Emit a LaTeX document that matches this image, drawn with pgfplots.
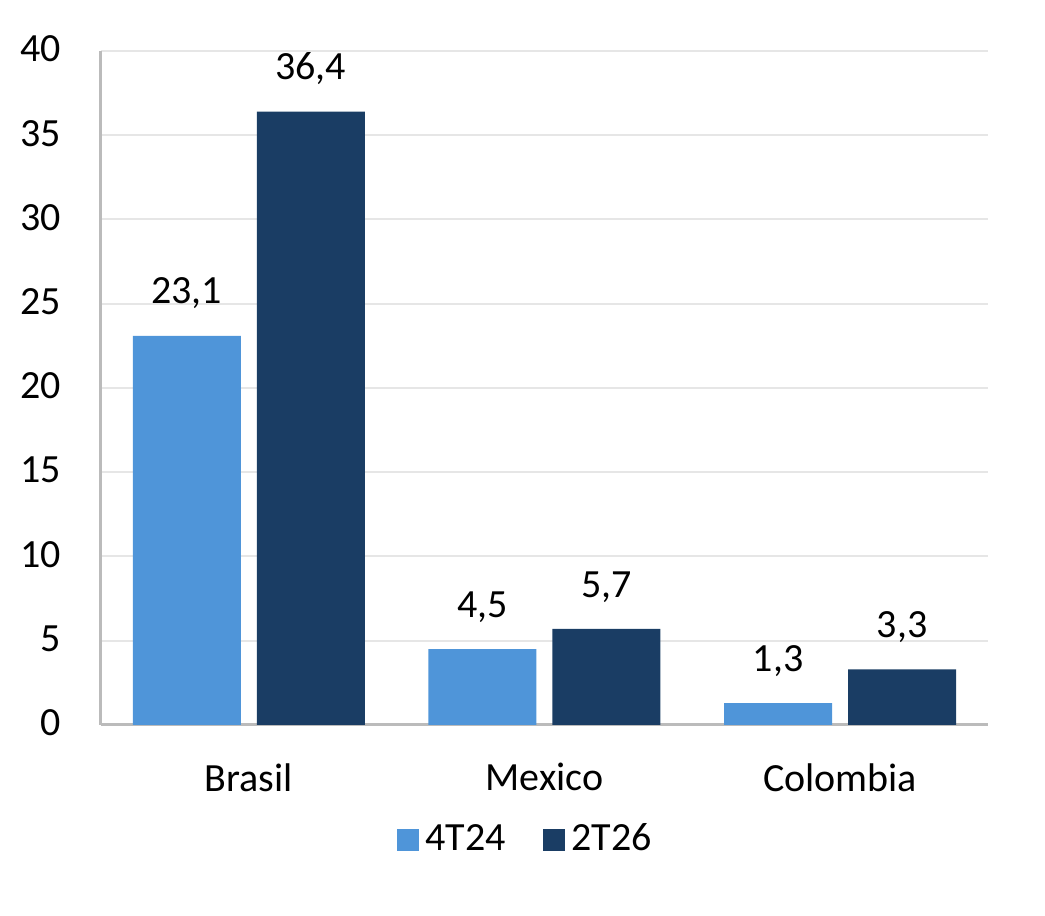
\documentclass[border=0pt]{standalone}
\usepackage{pgfplots}
\pgfplotsset{compat=1.18}
\usepackage{fontspec}
\setmainfont{Carlito}
\definecolor{lightbar}{HTML}{4F95D9}
\definecolor{darkbar}{HTML}{1A3D64}
\definecolor{gridgray}{HTML}{E6E6E6}
\definecolor{axisgray}{HTML}{BBBBBB}
\begin{document}
\begin{tikzpicture}
  \begin{axis}[
      name=ax,
      scale only axis,
      width=266.1pt, height=202.2pt,
      xmin=-0.5, xmax=2.5,
      ymin=0, ymax=40,
      ytick={0,5,...,40},
      xtick=data,
      xticklabels={Brasil,Mexico,Colombia},
      ybar, bar width=32.4pt,
      axis x line*=bottom, axis y line*=left,
      axis line style={axisgray, line width=0.9pt},
      x axis line style={-}, y axis line style={-},
      major tick length=0pt,
      ymajorgrids, grid style={gridgray, line width=0.6pt},
      tick label style={font=\fontsize{12}{14}\selectfont, black},
      yticklabel style={xshift=-8.4pt, yshift=0.6pt},
      xticklabel style={yshift=-8pt},
      /pgf/number format/assume math mode=true,
      nodes near coords,
      nodes near coords style={font=\fontsize{12}{14}\selectfont, black, anchor=south, yshift=4.5pt,
        /pgf/number format/.cd, fixed, fixed zerofill, precision=1, use comma},
      legend style={at={(0.481,-0.1706)}, anchor=center, draw=none,
        legend columns=2, font=\fontsize{12}{14}\selectfont,
        /tikz/every even column/.append style={column sep=9pt}},
      legend image code/.code={\fill[#1] (-1.5pt,-3.3pt) rectangle (5.1pt,3.3pt);},
    ]
    \addplot[fill=lightbar, draw=none, bar shift=-18.6pt] coordinates {(0,23.1) (1,4.5) (2,1.3)};
    \addplot[fill=darkbar, draw=none, bar shift=18.6pt] coordinates {(0,36.4) (1,5.7) (2,3.3)};
    \legend{4T24,2T26}
  \end{axis}
  \pgfresetboundingbox
  \path ([xshift=-30.3pt,yshift=-57.3pt]ax.south west) rectangle ([xshift=283.2pt,yshift=217.5pt]ax.south west);
\end{tikzpicture}
\end{document}
